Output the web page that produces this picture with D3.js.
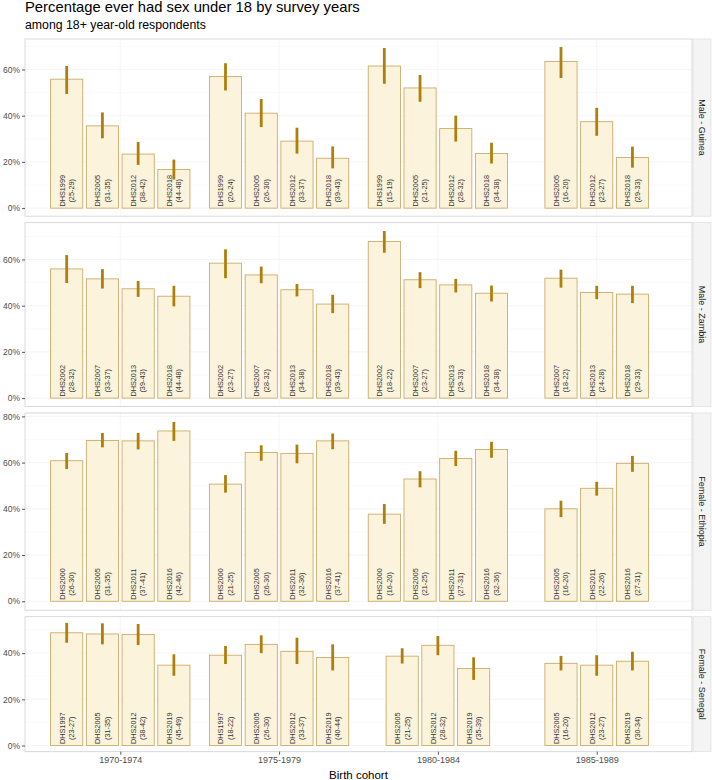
<!DOCTYPE html>
<html>
<head>
<meta charset="utf-8">
<script src="https://cdn.jsdelivr.net/npm/d3@7"></script>
<style>
  body { margin: 0; background: #fff; }
  svg { font-family: "Liberation Sans", Arial, sans-serif; }
</style>
</head>
<body>
<script>
// birth cohorts on the x axis and facet rows
var cohorts = ["1970-1974", "1975-1979", "1980-1984", "1985-1989"];
var panelNames = ["Male - Guinea", "Male - Zambia", "Female - Ethiopia", "Female - Senegal"];

// Male - Guinea
var guineaSurvey = [["DHS1999", "DHS2005", "DHS2012", "DHS2018"], ["DHS1999", "DHS2005", "DHS2012", "DHS2018"],
                    ["DHS1999", "DHS2005", "DHS2012", "DHS2018"], ["DHS2005", "DHS2012", "DHS2018"]];
var guineaAge = [["25-29", "31-35", "38-42", "44-48"], ["20-24", "26-30", "33-37", "39-43"],
                 ["15-19", "21-25", "28-32", "34-38"], ["16-20", "23-27", "29-33"]];
var guineaPct = [[55.8, 35.6, 23.4, 16.7], [56.9, 41.1, 29.0, 21.6], [61.5, 52.0, 34.4, 23.6], [63.5, 37.4, 21.9]];
var guineaLow = [[49.4, 30.2, 18.7, 12.4], [50.9, 35.1, 23.6, 17.2], [53.8, 46.0, 28.8, 19.3], [56.3, 31.3, 17.5]];
var guineaHigh = [[61.5, 41.4, 28.6, 21.0], [62.7, 47.2, 34.8, 26.7], [69.3, 57.6, 40.0, 28.3], [69.7, 43.4, 26.6]];

// Male - Zambia
var zambiaSurvey = [["DHS2002", "DHS2007", "DHS2013", "DHS2018"], ["DHS2002", "DHS2007", "DHS2013", "DHS2018"],
                    ["DHS2002", "DHS2007", "DHS2013", "DHS2018"], ["DHS2007", "DHS2013", "DHS2018"]];
var zambiaAge = [["28-32", "33-37", "39-43", "44-48"], ["23-27", "28-32", "34-38", "39-43"],
                 ["18-22", "23-27", "29-33", "34-38"], ["18-22", "24-28", "29-33"]];
var zambiaPct = [[55.9, 51.6, 47.3, 44.1], [58.4, 53.3, 46.9, 40.7], [67.8, 51.2, 49.0, 45.4], [51.9, 45.7, 45.0]];
var zambiaLow = [[49.8, 47.4, 43.8, 39.7], [51.9, 49.7, 44.0, 36.8], [62.9, 47.6, 45.7, 41.8], [47.8, 42.8, 41.1]];
var zambiaHigh = [[61.9, 55.8, 50.7, 48.6], [64.4, 56.9, 49.4, 44.7], [72.3, 54.5, 51.6, 48.7], [55.6, 48.6, 48.6]];

// Female - Ethiopia
var ethiopiaSurvey = [["DHS2000", "DHS2005", "DHS2011", "DHS2016"], ["DHS2000", "DHS2005", "DHS2011", "DHS2016"],
                      ["DHS2000", "DHS2005", "DHS2011", "DHS2016"], ["DHS2005", "DHS2011", "DHS2016"]];
var ethiopiaAge = [["26-30", "31-35", "37-41", "42-46"], ["21-25", "26-30", "32-36", "37-41"],
                   ["16-20", "21-25", "27-31", "32-36"], ["16-20", "22-26", "27-31"]];
var ethiopiaPct = [[60.8, 69.6, 69.4, 73.7], [50.7, 64.4, 64.0, 69.4], [37.7, 52.9, 61.8, 65.7], [40.0, 48.9, 59.7]];
var ethiopiaLow = [[57.2, 66.6, 65.7, 69.4], [47.0, 60.8, 59.7, 65.8], [33.5, 49.3, 58.5, 62.1], [36.4, 45.7, 56.0]];
var ethiopiaHigh = [[64.2, 72.8, 72.8, 77.6], [54.6, 67.5, 67.8, 72.6], [42.1, 56.3, 65.1, 69.0], [43.5, 51.7, 62.9]];

// Female - Senegal
var senegalSurvey = [["DHS1997", "DHS2005", "DHS2012", "DHS2019"], ["DHS1997", "DHS2005", "DHS2012", "DHS2019"],
                     ["DHS2005", "DHS2012", "DHS2019"], ["DHS2005", "DHS2012", "DHS2019"]];
var senegalAge = [["23-27", "31-35", "38-42", "45-49"], ["18-22", "26-30", "33-37", "40-44"],
                  ["21-25", "28-32", "35-39"], ["16-20", "23-27", "30-34"]];
var senegalPct = [[48.8, 48.3, 48.1, 34.8], [39.1, 43.8, 40.8, 38.1], [38.7, 43.4, 33.3], [35.6, 34.8, 36.5]];
var senegalLow = [[44.5, 43.8, 43.5, 30.2], [35.3, 40.0, 35.3, 32.5], [35.5, 39.1, 28.4], [32.5, 30.2, 32.5]];
var senegalHigh = [[53.1, 52.9, 52.6, 39.5], [43.1, 47.7, 46.7, 43.8], [42.1, 47.4, 38.2], [38.8, 39.1, 40.6]];

var W = 712, H = 780;
var plotLeft = 25, plotRight = 692, plotTop = 39, plotBottom = 751.7, gap = 6.5;
var stripW = 18;

var barFill = "#fcf3dc", barStroke = "#c6a25a", errColor = "#ae800b";

function buildPanel(name, survey, age, pct, low, high) {
  var rows = [];
  cohorts.forEach(function (c, ci) {
    var n = pct[ci].length;
    pct[ci].forEach(function (v, i) {
      rows.push({cohort: c, i: i, n: n, survey: survey[ci][i], age: age[ci][i], pct: v, low: low[ci][i], high: high[ci][i]});
    });
  });
  return {name: name, rows: rows};
}

var panels = [
  buildPanel(panelNames[0], guineaSurvey, guineaAge, guineaPct, guineaLow, guineaHigh),
  buildPanel(panelNames[1], zambiaSurvey, zambiaAge, zambiaPct, zambiaLow, zambiaHigh),
  buildPanel(panelNames[2], ethiopiaSurvey, ethiopiaAge, ethiopiaPct, ethiopiaLow, ethiopiaHigh),
  buildPanel(panelNames[3], senegalSurvey, senegalAge, senegalPct, senegalLow, senegalHigh)
];

// free y scales with space proportional to range (5% expansion)
panels.forEach(function (p) {
  var m = d3.max(p.rows, function (d) { return d.high; });
  p.domain = [-0.05 * m, 1.05 * m];
});
var totalRange = d3.sum(panels, function (p) { return p.domain[1] - p.domain[0]; });
var avail = plotBottom - plotTop - gap * (panels.length - 1);
var yPos = plotTop;
panels.forEach(function (p) {
  p.h = avail * (p.domain[1] - p.domain[0]) / totalRange;
  p.y0 = yPos;
  p.y = d3.scaleLinear().domain(p.domain).range([yPos + p.h, yPos]);
  yPos += p.h + gap;
});

var x = d3.scalePoint().domain(cohorts).range([plotLeft, plotRight]).padding(0.6);
var slot = x.step() * 0.9 / 4;

var svg = d3.select("body").append("svg").attr("width", W).attr("height", H);

svg.append("text").attr("x", plotLeft).attr("y", 12).attr("font-size", 14.8).attr("fill", "#000")
  .text("Percentage ever had sex under 18 by survey years");
svg.append("text").attr("x", plotLeft).attr("y", 28.5).attr("font-size", 12.3).attr("fill", "#000")
  .text("among 18+ year-old respondents");

panels.forEach(function (p, pi) {
  var g = svg.append("g");
  var y = p.y;
  var ticks = d3.range(0, p.domain[1], 20);
  var minor = d3.range(10, p.domain[1], 20);

  g.append("rect").attr("x", plotLeft).attr("y", p.y0).attr("width", plotRight - plotLeft).attr("height", p.h)
    .attr("fill", "#fff");

  g.selectAll(".minor").data(minor).enter().append("line")
    .attr("x1", plotLeft).attr("x2", plotRight).attr("y1", y).attr("y2", y)
    .attr("stroke", "#f5f5f5").attr("stroke-width", 0.5);
  g.selectAll(".major").data(ticks).enter().append("line")
    .attr("x1", plotLeft).attr("x2", plotRight).attr("y1", y).attr("y2", y)
    .attr("stroke", "#eeeeee").attr("stroke-width", 0.6);
  g.selectAll(".vgrid").data(cohorts).enter().append("line")
    .attr("x1", x).attr("x2", x).attr("y1", p.y0).attr("y2", p.y0 + p.h)
    .attr("stroke", "#eeeeee").attr("stroke-width", 0.6);

  var bw = slot * 0.9;
  function cx(d) { return x(d.cohort) + (d.i - (d.n - 1) / 2) * slot; }

  g.selectAll(".bar").data(p.rows).enter().append("rect")
    .attr("x", function (d) { return cx(d) - bw / 2; })
    .attr("y", function (d) { return y(d.pct); })
    .attr("width", bw)
    .attr("height", function (d) { return y(0) - y(d.pct); })
    .attr("fill", barFill).attr("stroke", barStroke).attr("stroke-width", 0.8);

  g.selectAll(".err").data(p.rows).enter().append("line")
    .attr("x1", cx).attr("x2", cx)
    .attr("y1", function (d) { return y(d.low); })
    .attr("y2", function (d) { return y(d.high); })
    .attr("stroke", errColor).attr("stroke-width", 2.8);

  // labels inside bars
  var lab = g.selectAll(".lab").data(p.rows).enter().append("g")
    .attr("transform", function (d) { return "translate(" + cx(d) + "," + (y(0) - 1.5) + ") rotate(-90)"; });
  lab.append("text").attr("class", "l1").attr("y", -4.6).attr("dy", "0.35em")
    .attr("font-size", 7.3).attr("fill", "#333").attr("text-anchor", "middle")
    .text(function (d) { return d.survey; });
  lab.append("text").attr("y", 4.8).attr("dy", "0.35em")
    .attr("font-size", 7.3).attr("fill", "#333").attr("text-anchor", "middle")
    .text(function (d) { return "(" + d.age + ")"; });
  lab.each(function () {
    var gg = d3.select(this);
    var len = gg.select(".l1").node().getComputedTextLength();
    gg.selectAll("text").attr("x", len / 2);
  });

  g.append("rect").attr("x", plotLeft).attr("y", p.y0).attr("width", plotRight - plotLeft).attr("height", p.h)
    .attr("fill", "none").attr("stroke", "#cfcfcf").attr("stroke-width", 0.8);

  // y axis
  var ax = g.append("g").attr("transform", "translate(" + plotLeft + ",0)")
    .call(d3.axisLeft(y).tickValues(ticks).tickSize(3).tickPadding(2).tickFormat(function (d) { return d + "%"; }));
  ax.select(".domain").remove();
  ax.selectAll("line").attr("stroke", "#555");
  ax.selectAll("text").attr("font-size", 8.5).attr("fill", "#4d4d4d").attr("font-family", "Liberation Sans, Arial, sans-serif");

  // strip
  g.append("rect").attr("x", plotRight + 1).attr("y", p.y0).attr("width", stripW).attr("height", p.h)
    .attr("fill", "#f4f4f4").attr("stroke", "#dadada").attr("stroke-width", 0.6);
  g.append("text")
    .attr("transform", "translate(" + (plotRight + 1 + stripW / 2) + "," + (p.y0 + p.h / 2) + ") rotate(90)")
    .attr("text-anchor", "middle").attr("dy", "0.35em").attr("font-size", 9).attr("fill", "#1a1a1a")
    .text(p.name);

  if (pi === panels.length - 1) {
    var xa = svg.append("g").attr("transform", "translate(0," + (p.y0 + p.h) + ")")
      .call(d3.axisBottom(x).tickSize(3).tickPadding(2));
    xa.select(".domain").remove();
    xa.selectAll("line").attr("stroke", "#555");
    xa.selectAll("text").attr("font-size", 9).attr("fill", "#4d4d4d").attr("font-family", "Liberation Sans, Arial, sans-serif");
  }
});

svg.append("text").attr("x", (plotLeft + plotRight) / 2).attr("y", 779).attr("text-anchor", "middle")
  .attr("font-size", 11.5).attr("fill", "#000").text("Birth cohort");
</script>
</body>
</html>
